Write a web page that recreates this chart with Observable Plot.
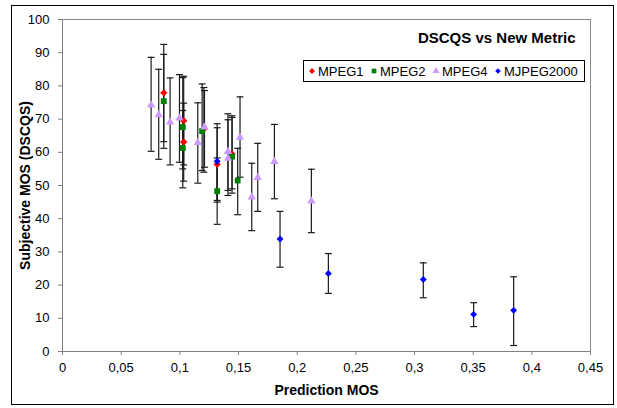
<!DOCTYPE html>
<html><head><meta charset="utf-8">
<script src="https://cdn.jsdelivr.net/npm/d3@7"></script>
<script src="https://cdn.jsdelivr.net/npm/@observablehq/plot@0.6"></script>
<style>body{margin:0;background:#fff} svg{display:block}</style>
</head><body><div id="chart"></div>
<script>
const seriesNames = ["MPEG1", "MPEG2", "MPEG4", "MJPEG2000"];
const seriesColors = ["#FF0000", "#008000", "#CC99FF", "#0000FF"];
// each row: [prediction MOS, subjective MOS, upper error, lower error]
const mpeg1 = [
  [0.0863, 77.9, 92.5, 63.2],
  [0.1033, 69.5, 82.9, 56.2],
  [0.1033, 63.1, 74.8, 51.3],
  [0.1205, 67.0, 79.5, 54.0],
  [0.1318, 56.4, 67.4, 45.0],
  [0.1445, 59.5, 71.0, 47.7]
];
const mpeg2 = [
  [0.0863, 75.4, 89.5, 61.2],
  [0.1025, 67.6, 82.5, 55.0],
  [0.1025, 61.3, 72.6, 49.3],
  [0.1190, 66.4, 80.6, 54.5],
  [0.1318, 48.3, 58.3, 38.3],
  [0.1445, 58.7, 70.5, 49.0],
  [0.1493, 51.5, 61.2, 41.2]
];
const mpeg4 = [
  [0.0755, 74.2, 88.6, 60.3],
  [0.0820, 71.3, 85.0, 57.9],
  [0.0917, 69.1, 82.4, 56.2],
  [0.0997, 70.3, 83.4, 57.0],
  [0.1153, 62.9, 74.9, 50.7],
  [0.1210, 67.6, 78.6, 55.5],
  [0.1410, 60.2, 71.6, 48.5],
  [0.1410, 58.2, 69.8, 47.0],
  [0.1513, 64.5, 76.7, 52.5],
  [0.1613, 46.5, 56.7, 36.4],
  [0.1664, 52.4, 62.7, 42.2],
  [0.1806, 57.2, 68.4, 46.0],
  [0.2121, 45.3, 54.9, 35.8]
];
const mjpeg2000 = [
  [0.1318, 57.3, 68.6, 45.5],
  [0.1854, 33.9, 42.2, 25.4],
  [0.2266, 23.5, 29.5, 17.5],
  [0.3075, 21.7, 26.7, 16.2],
  [0.3504, 11.2, 14.7, 7.5],
  [0.3845, 12.4, 22.5, 1.8]
];
const xTicks = [0, 0.05, 0.1, 0.15, 0.2, 0.25, 0.3, 0.35, 0.4, 0.45];
const yTicks = [0, 10, 20, 30, 40, 50, 60, 70, 80, 90, 100];
const chartTitle = "DSCQS vs New Metric";
const xTitle = "Prediction MOS";
const yTitle = "Subjective MOS (DSCQS)";

const allSeries = [mpeg1, mpeg2, mpeg4, mjpeg2000];
const rows = [];
allSeries.forEach((arr, i) => arr.forEach(([x, y, hi, lo]) => rows.push({series: seriesNames[i], x, y, hi, lo})));
const bySeries = seriesNames.map(s => rows.filter(r => r.series === s));

const capSymbol = {draw(ctx, size) { const r = Math.sqrt(size) / 2; ctx.moveTo(-r, 0); ctx.lineTo(r, 0); }};
const fmt = d => String(d).replace(".", ",");
const font = "Liberation Sans, Arial, sans-serif";

const markerSpec = [
  {symbol: "diamond2", r: 3.3},
  {symbol: "square", r: 3.3},
  {symbol: "triangle", r: 3.1},
  {symbol: "diamond2", r: 3.1}
];

const plot = Plot.plot({
  width: 617,
  height: 408,
  marginLeft: 62,
  marginRight: 27,
  marginTop: 19,
  marginBottom: 57,
  style: {fontFamily: font, fontSize: "13px", color: "#000", background: "#fff"},
  x: {domain: [0, 0.45]},
  y: {domain: [0, 100]},
  marks: [
    Plot.frame({stroke: "#888"}),
    Plot.axisX({ticks: xTicks, tickFormat: fmt, tickSize: 4, tickPadding: 7, stroke: "#808080", label: null, fontSize: 13}),
    Plot.axisY({ticks: yTicks, tickSize: 4, tickPadding: 9, stroke: "#808080", label: null, fontSize: 13}),
    Plot.ruleY([0], {stroke: "#808080"}),
    Plot.ruleX([0], {stroke: "#808080"}),
    Plot.ruleX(rows, {x: "x", y1: "lo", y2: "hi", stroke: "#1a1a1a", strokeWidth: 1.2}),
    Plot.dot(rows, {x: "x", y: "hi", symbol: capSymbol, r: 3.9, stroke: "#1a1a1a", strokeWidth: 1.2, fill: "none"}),
    Plot.dot(rows, {x: "x", y: "lo", symbol: capSymbol, r: 3.9, stroke: "#1a1a1a", strokeWidth: 1.2, fill: "none"}),
    ...bySeries.map((data, i) => Plot.dot(data, {x: "x", y: "y", symbol: markerSpec[i].symbol, r: markerSpec[i].r, fill: seriesColors[i], stroke: "none"})),
    Plot.text([chartTitle], {text: d => d, frameAnchor: "top-right", dx: -15, dy: 19, textAnchor: "end", lineAnchor: "middle", fontSize: 15, fontWeight: "bold", fill: "#000"}),
    Plot.text([xTitle], {text: d => d, frameAnchor: "bottom", dy: 39, lineAnchor: "middle", fontSize: 14, fontWeight: "bold", fill: "#000"}),
    Plot.text([yTitle], {text: d => d, frameAnchor: "left", dx: -37, rotate: -90, textAnchor: "middle", lineAnchor: "middle", fontSize: 14, fontWeight: "bold", fill: "#000"})
  ]
});

const svg = d3.select(plot);
// outer chart border
svg.append("rect").attr("x", 11.5).attr("y", 5.5).attr("width", 602).attr("height", 399)
  .attr("fill", "none").attr("stroke", "#000").attr("stroke-width", 1);
// legend
const lg = svg.append("g").attr("font-family", font).attr("font-size", 13).attr("text-anchor", "start");
lg.append("rect").attr("x", 303.5).attr("y", 60.5).attr("width", 281).attr("height", 21)
  .attr("fill", "#fff").attr("stroke", "#000").attr("stroke-width", 1);
const legendSyms = [d3.symbolDiamond2, d3.symbolSquare, d3.symbolTriangle, d3.symbolDiamond2];
const legendSizes = [22, 22, 22, 20];
const legendX = [312, 374, 436, 498];
seriesNames.forEach((name, i) => {
  lg.append("path").attr("d", d3.symbol(legendSyms[i], legendSizes[i])())
    .attr("transform", `translate(${legendX[i]},71)`).attr("fill", seriesColors[i]);
  lg.append("text").attr("x", legendX[i] + 6).attr("y", 71).attr("dy", "0.35em")
    .attr("text-anchor", "start").attr("fill", "#000").text(name);
});
document.getElementById("chart").appendChild(plot);
</script>
</body></html>
